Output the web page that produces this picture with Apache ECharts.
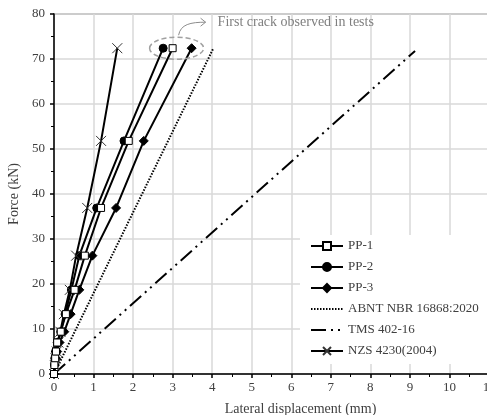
<!DOCTYPE html>
<html><head><meta charset="utf-8">
<script src="https://cdn.jsdelivr.net/npm/echarts@6/dist/echarts.min.js"></script>
<style>html,body{margin:0;padding:0;background:#fff}#c{width:487px;height:415px}</style>
</head><body><div id="c"></div>
<script>
const forceLevels = [0, 2, 3.5, 5, 7, 9.4, 13.3, 18.7, 26.3, 36.9, 51.8, 72.4];
const pp1Disp = [0, 0.01, 0.03, 0.05, 0.08, 0.17, 0.30, 0.52, 0.78, 1.19, 1.89, 3.00];
const pp2Disp = [0, 0.01, 0.02, 0.04, 0.08, 0.17, 0.28, 0.44, 0.64, 1.08, 1.77, 2.76];
const pp3Disp = [0, 0.02, 0.05, 0.08, 0.14, 0.26, 0.42, 0.64, 0.97, 1.57, 2.27, 3.48];
const nzsDisp = [0, 0.02, 0.04, 0.07, 0.11, 0.16, 0.25, 0.40, 0.56, 0.84, 1.19, 1.60];
const abntDisp = [0, 4.02];
const abntForce = [0, 72.2];
const tmsDisp = [0, 9.13];
const tmsForce = [0, 71.8];
const xTicks = [0,1,2,3,4,5,6,7,8,9,10,11];
const yTicks = [0,10,20,30,40,50,60,70,80];
const annotationText = 'First crack observed in tests';

const zip = (xs, ys) => xs.map((x, i) => [x, ys[i]]);
const FONT = '"Liberation Serif", "DejaVu Serif", serif';
const chart = echarts.init(document.getElementById('c'));
const blk = '#000';
const lineSeries = (name, data, symbol, size, extra) => Object.assign({
  name, type: 'line', data, symbol, symbolSize: size, showSymbol: true,
  lineStyle: { color: blk, width: 2 },
  itemStyle: { color: blk, borderColor: blk, borderWidth: 1 },
  z: 3, animation: false
}, extra || {});
const hiddenIcon = { color: 'rgba(0,0,0,0)', borderColor: 'rgba(0,0,0,0)', borderWidth: 0, opacity: 0 };

chart.setOption({
  animation: false,
  grid: { left: 54, top: 14, width: 435, height: 360, containLabel: false, outerBoundsMode: 'none', show: true, borderColor: '#a6a6a6', borderWidth: 2, backgroundColor: 'transparent' },
  xAxis: {
    type: 'value', min: xTicks[0], max: xTicks[xTicks.length - 1], interval: 1,
    name: 'Lateral displacement (mm)', nameLocation: 'middle', nameGap: 28,
    nameTextStyle: { fontFamily: FONT, fontSize: 14, color: '#404040', padding: [0, 0, 0, 58] },
    axisLine: { lineStyle: { color: blk, width: 1.5 } },
    axisTick: { show: true, length: 4, lineStyle: { color: blk, width: 1.5 } },
    minorTick: { show: true, splitNumber: 2, length: 3, lineStyle: { color: blk, width: 1 } },
    axisLabel: { fontFamily: FONT, fontSize: 13, color: '#404040', margin: 7 },
    splitLine: { show: true, lineStyle: { color: '#d9d9d9', width: 1.5 } }
  },
  yAxis: {
    type: 'value', min: yTicks[0], max: yTicks[yTicks.length - 1], interval: 10,
    name: 'Force (kN)', nameLocation: 'middle', nameGap: 31,
    nameTextStyle: { fontFamily: FONT, fontSize: 14, color: '#404040' },
    axisLine: { show: true, lineStyle: { color: blk, width: 1.5 } },
    axisTick: { show: true, length: 4, lineStyle: { color: blk, width: 1.5 } },
    minorTick: { show: true, splitNumber: 2, length: 3, lineStyle: { color: blk, width: 1 } },
    axisLabel: { fontFamily: FONT, fontSize: 13, color: '#404040', margin: 9 },
    splitLine: { show: true, lineStyle: { color: '#d9d9d9', width: 1.5 } }
  },
  legend: {
    orient: 'vertical', left: 300, top: 235,
    backgroundColor: '#fff', padding: [4, 12, 6, 10],
    itemWidth: 32, itemHeight: 10, itemGap: 7,
    textStyle: { fontFamily: FONT, fontSize: 13, color: '#404040', lineHeight: 14 },
    data: ['PP-1', 'PP-2', 'PP-3',
      { name: 'ABNT NBR 16868:2020', itemStyle: hiddenIcon },
      { name: 'TMS 402-16', itemStyle: hiddenIcon },
      'NZS 4230(2004)']
  },
  series: [
    lineSeries('PP-1', zip(pp1Disp, forceLevels), 'rect', 7, { itemStyle: { color: '#fff', borderColor: blk, borderWidth: 1 } , z: 4}),
    lineSeries('PP-2', zip(pp2Disp, forceLevels), 'circle', 8),
    lineSeries('PP-3', zip(pp3Disp, forceLevels), 'diamond', 9),
    lineSeries('ABNT NBR 16868:2020', zip(abntDisp, abntForce), 'none', 0, { lineStyle: { color: blk, width: 2, type: [1.5, 1.5] } }),
    lineSeries('TMS 402-16', zip(tmsDisp, tmsForce), 'none', 0, { lineStyle: { color: blk, width: 2, type: [15, 5, 2, 5, 2, 5] } }),
    lineSeries('NZS 4230(2004)', zip(nzsDisp, forceLevels), 'path://M0,0L10,10M10,0L0,10', 10, { itemStyle: { color: 'none', borderColor: '#333', borderWidth: 1 } })
  ]
});

// Annotation placed via data coordinates
const c = chart.convertToPixel({ gridIndex: 0 }, [3.1, 72.4]);
const cx = c[0], cy = c[1];
const gray = '#8c8c8c';
chart.setOption({
  graphic: [
    { type: 'ellipse', shape: { cx: cx, cy: cy, rx: 27, ry: 11 }, style: { fill: 'none', stroke: '#a0a0a0', lineWidth: 1.5, lineDash: [5, 3] }, z: 10, silent: true },
    { type: 'bezierCurve', shape: { x1: cx + 2, y1: cy - 13, cpx1: cx + 4, cpy1: cy - 24, cpx2: cx + 14, cpy2: cy - 26, x2: cx + 29, y2: cy - 26 }, style: { fill: 'none', stroke: gray, lineWidth: 1 }, z: 10, silent: true },
    { type: 'polyline', shape: { points: [[cx + 24, cy - 30], [cx + 29, cy - 26], [cx + 24, cy - 22]] }, style: { fill: 'none', stroke: gray, lineWidth: 1 }, z: 10, silent: true },
    { type: 'text', x: cx + 41, y: cy - 26, style: { text: annotationText, fontFamily: FONT, fontSize: 14, fill: '#7f7f7f', textVerticalAlign: 'middle', verticalAlign: 'middle' }, z: 10, silent: true }
  ]
});
</script></body></html>
